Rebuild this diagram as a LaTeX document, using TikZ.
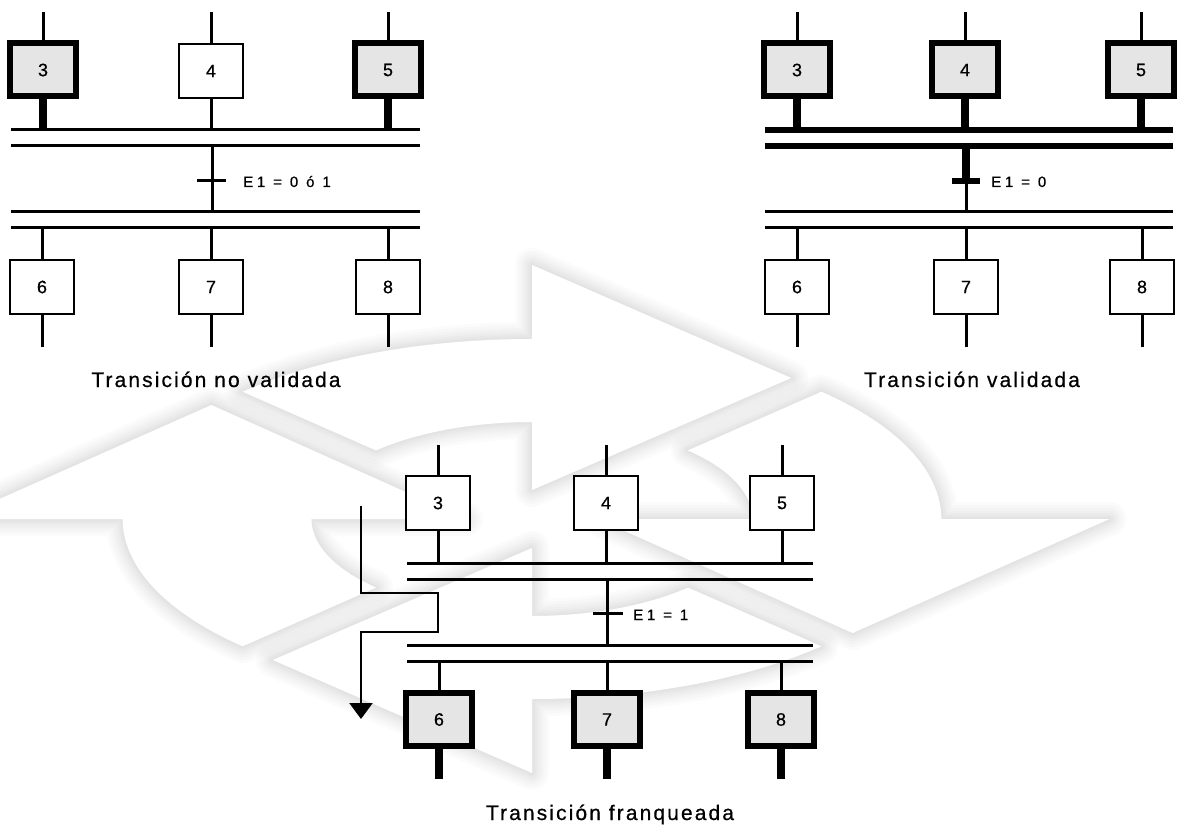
\documentclass[tikz,border=0pt]{standalone}
\usepackage{fontspec}
\setmainfont{Liberation Sans}
\newfontfamily\captionfont[LetterSpace=10,FakeBold=0.6]{Liberation Sans}
\newfontfamily\condfont[LetterSpace=25,FakeBold=0.5]{Liberation Sans}
\newfontfamily\stepfont[FakeBold=0.5]{Liberation Sans}
\usetikzlibrary{arrows.meta}

\begin{document}
\begin{tikzpicture}[x=1pt,y=-1pt,
  link/.style={line width=3},
  heavylink/.style={line width=7.5},
  bar/.style={line width=3},
  heavybar/.style={line width=5.5},
  stepbox/.style={draw,line width=2.5,fill=white,minimum width=64,minimum height=54,
    inner sep=0pt,font=\stepfont\fontsize{18}{18}\selectfont},
  activebox/.style={stepbox,line width=6,fill=gray!20,minimum width=66,minimum height=53},
  cond/.style={anchor=base west,inner sep=0pt,font=\condfont\fontsize{15}{15}\selectfont},
  caption/.style={anchor=base,inner sep=0pt,font=\captionfont\fontsize{21}{21}\selectfont},
  halo/.style={draw=black,draw opacity=0.015,line join=round,line width=#1},
  flowarrow/.style={line width=2.2,-{Triangle[width=23pt,length=16pt]}},
]
\useasboundingbox (0,0) rectangle (1180,826);

% ---------- faint cycle of four curved arrows behind everything
\begin{scope}
  \clip (0,0) rectangle (1180,826);
  \begin{scope}[shift={(532,519)},xscale=2.274,yscale=-1]
    \foreach \k in {0,1,2,3}{
      \begin{scope}[rotate=90*\k]
        \foreach \w in {34,28,22,17,12,8,4}
          \draw[halo=\w] (135:180) arc[start angle=135,end angle=90,radius=180]
            -- (0,254) -- (114,141) -- (0,29) -- (0,97)
            arc[start angle=90,end angle=135,radius=97] -- cycle;
        \fill[white] (135:180) arc[start angle=135,end angle=90,radius=180]
            -- (0,254) -- (114,141) -- (0,29) -- (0,97)
            arc[start angle=90,end angle=135,radius=97] -- cycle;
      \end{scope}
    }
  \end{scope}
\end{scope}

% ---------- top left: transition not enabled
\coordinate (a-top) at (0,12);
\coordinate (a-bot) at (0,347);
\coordinate (a-b1w) at (11,130); \coordinate (a-b1e) at (420,130);
\coordinate (a-b2w) at (11,146); \coordinate (a-b2e) at (420,146);
\coordinate (a-b3w) at (11,212); \coordinate (a-b3e) at (420,212);
\coordinate (a-b4w) at (11,228); \coordinate (a-b4e) at (420,228);
\coordinate (a-t) at (212,181);
\node[activebox] (a3) at (43,70) {3};
\node[stepbox]   (a4) at (211,71) {4};
\node[activebox] (a5) at (388,70) {5};
\node[stepbox] (a6) at (42,287) {6};
\node[stepbox] (a7) at (211,287) {7};
\node[stepbox] (a8) at (388,287) {8};
\foreach \b in {1,2,3,4} \draw[bar] (a-b\b w) -- (a-b\b e);
\foreach \s in {3,4,5} \draw[link] (a\s.north) -- (a\s.north |- a-top);
\draw[heavylink] (a3.south) -- (a3.south |- a-b1w);
\draw[link] (a4.south) -- (a4.south |- a-b1w);
\draw[heavylink] (a5.south) -- (a5.south |- a-b1w);
\draw[link] (a-t |- a-b2w) -- (a-t |- a-b3w);
\draw[link] (a-t) ++(-15,0) -- ++(29,0);
\node[cond] (a-cond) at (243,187) {E1 = 0 ó 1};
\foreach \s in {6,7,8}{
  \draw[link] (a\s.north) -- (a\s.north |- a-b4w);
  \draw[link] (a\s.south) -- (a\s.south |- a-bot);
}
\node[caption] (a-cap) at (216,387) {Transición no validada};

% ---------- top right: transition enabled
\coordinate (b-top) at (0,12);
\coordinate (b-bot) at (0,347);
\coordinate (b-b1w) at (765,130); \coordinate (b-b1e) at (1173,130);
\coordinate (b-b2w) at (765,146); \coordinate (b-b2e) at (1173,146);
\coordinate (b-b3w) at (765,212); \coordinate (b-b3e) at (1173,212);
\coordinate (b-b4w) at (765,228); \coordinate (b-b4e) at (1173,228);
\coordinate (b-t) at (966,181);
\node[activebox] (b3) at (797,70) {3};
\node[activebox] (b4) at (965,70) {4};
\node[activebox] (b5) at (1141,70) {5};
\node[stepbox] (b6) at (797,287) {6};
\node[stepbox] (b7) at (966,287) {7};
\node[stepbox] (b8) at (1142,287) {8};
\foreach \b in {1,2} \draw[heavybar] (b-b\b w) -- (b-b\b e);
\foreach \b in {3,4} \draw[bar] (b-b\b w) -- (b-b\b e);
\foreach \s in {3,4,5}{
  \draw[link] (b\s.north) -- (b\s.north |- b-top);
  \draw[heavylink] (b\s.south) -- (b\s.south |- b-b1w);
}
\draw[line width=8] (b-t |- b-b2w) -- (b-t);
\draw[link] (b-t) -- (b-t |- b-b3w);
\draw[line width=6] (b-t) ++(-14,0) -- ++(28,0);
\node[cond] (b-cond) at (991,187) {E1 = 0};
\foreach \s in {6,7,8}{
  \draw[link] (b\s.north) -- (b\s.north |- b-b4w);
  \draw[link] (b\s.south) -- (b\s.south |- b-bot);
}
\node[caption] (b-cap) at (972,387) {Transición validada};

% ---------- bottom: transition fired
\coordinate (c-top) at (0,445);
\coordinate (c-bot) at (0,779);
\coordinate (c-b1w) at (407,563); \coordinate (c-b1e) at (813,563);
\coordinate (c-b2w) at (407,579); \coordinate (c-b2e) at (813,579);
\coordinate (c-b3w) at (407,645); \coordinate (c-b3e) at (813,645);
\coordinate (c-b4w) at (407,661); \coordinate (c-b4e) at (813,661);
\coordinate (c-t) at (607,613);
\node[stepbox] (c3) at (438,503) {3};
\node[stepbox] (c4) at (606,503) {4};
\node[stepbox] (c5) at (782,503) {5};
\node[activebox] (c6) at (439,719.5) {6};
\node[activebox] (c7) at (607,719.5) {7};
\node[activebox] (c8) at (781,719.5) {8};
\foreach \b in {1,2,3,4} \draw[bar] (c-b\b w) -- (c-b\b e);
\foreach \s in {3,4,5}{
  \draw[link] (c\s.north) -- (c\s.north |- c-top);
  \draw[link] (c\s.south) -- (c\s.south |- c-b1w);
}
\draw[link] (c-t |- c-b2w) -- (c-t |- c-b3w);
\draw[link] (c-t) ++(-14,0) -- ++(30,0);
\node[cond] (c-cond) at (633,620) {E1 = 1};
\foreach \s in {6,7,8}{
  \draw[link] (c\s.north) -- (c\s.north |- c-b4w);
  \draw[heavylink] (c\s.south) -- (c\s.south |- c-bot);
}
\node[caption] (c-cap) at (610,820) {Transición franqueada};

% evolution arrow beside the fired transition
\coordinate (c-a0) at (361,506);
\coordinate (c-a1) at (361,593);
\coordinate (c-a2) at (438,593);
\coordinate (c-a3) at (438,632);
\coordinate (c-a4) at (361,632);
\coordinate (c-a5) at (361,719);
\draw[flowarrow] (c-a0) -- (c-a1) -- (c-a2) -- (c-a3) -- (c-a4) -- (c-a5);
\end{tikzpicture}
\end{document}
